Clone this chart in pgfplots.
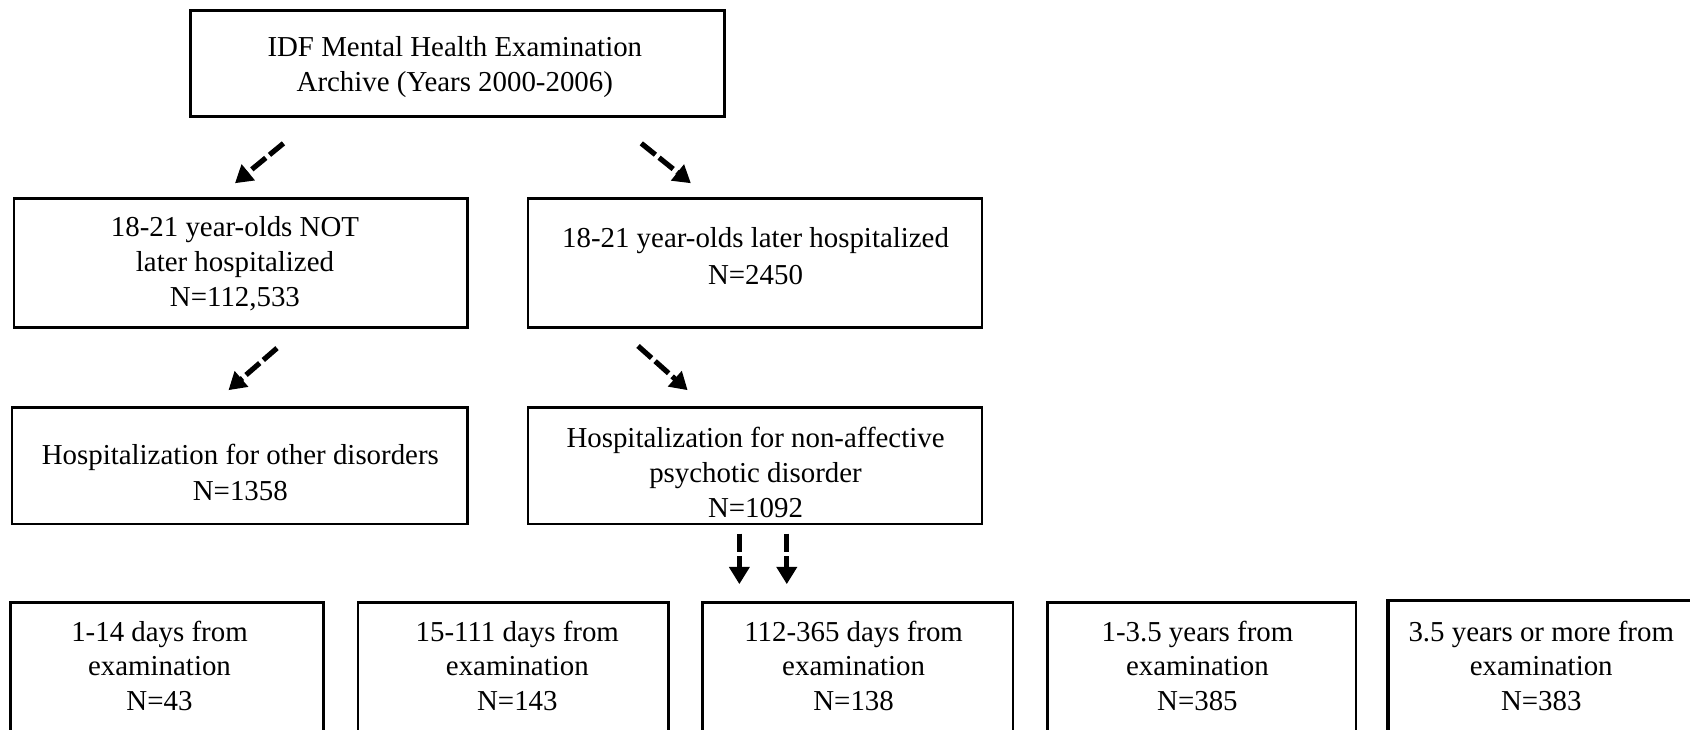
\documentclass[border=0pt]{standalone}
\usepackage{pgfplots}
\pgfplotsset{compat=1.18}
\usepackage{fontspec}
\setmainfont{Liberation Serif}
\usetikzlibrary{arrows.meta}
\begin{document}
\begin{tikzpicture}
\begin{axis}[width=392pt, height=169.25pt, scale only axis,
  xmin=0, xmax=1568, ymin=0, ymax=677, y dir=reverse,
  axis lines=none, clip=false,
  bx/.style={black, solid, line width=0.6pt, mark=none},
  arr/.style={black, line width=1.2pt, mark=none, dash pattern=on 4.2pt off 1.1pt, -{Triangle[length=4pt,width=4.6pt]}},
  nodes={font=\fontsize{6.7}{8.1}\selectfont, inner sep=0pt, anchor=base}]
% boxes
\addplot[bx] coordinates {(177,10) (672,10) (672,108) (177,108)} -- cycle;
\addplot[bx] coordinates {(13,184) (434,184) (434,304) (13,304)} -- cycle;
\addplot[bx] coordinates {(490,184) (911,184) (911,304) (490,304)} -- cycle;
\addplot[bx] coordinates {(11,378) (434,378) (434,486) (11,486)} -- cycle;
\addplot[bx] coordinates {(490,378) (911,378) (911,486) (490,486)} -- cycle;
\addplot[bx] coordinates {(10,677) (10,559) (300,559) (300,677)};
\addplot[bx] coordinates {(332,677) (332,559) (620,559) (620,677)};
\addplot[bx] coordinates {(652,677) (652,559) (940,559) (940,677)};
\addplot[bx] coordinates {(972,677) (972,559) (1258,559) (1258,677)};
\addplot[bx, line width=0.8pt] coordinates {(1288,677) (1288,557) (1568,557)};
% arrows
\addplot[arr] coordinates {(263,133) (218,170)};
\addplot[arr] coordinates {(595,133) (641,170)};
\addplot[arr] coordinates {(257,323) (212,362)};
\addplot[arr] coordinates {(592,321) (638,362)};
\addplot[arr] coordinates {(686,495) (686,542)};
\addplot[arr] coordinates {(730,495) (730,542)};
% texts
\node at (axis cs:422,52.6) {IDF Mental Health Examination};
\node at (axis cs:422,84.5) {Archive (Years 2000-2006)};
\node at (axis cs:218,219) {18-21 year-olds NOT};
\node at (axis cs:218,251.5) {later hospitalized};
\node at (axis cs:218,284) {N=112,533};
\node at (axis cs:701,230) {18-21 year-olds later hospitalized};
\node at (axis cs:701,263.5) {N=2450};
\node at (axis cs:223,431) {Hospitalization for other disorders};
\node at (axis cs:223,464) {N=1358};
\node at (axis cs:701,415) {Hospitalization for non-affective};
\node at (axis cs:701,447.5) {psychotic disorder};
\node at (axis cs:701,480) {N=1092};
\node at (axis cs:148,595) {1-14 days from};
\node at (axis cs:148,627) {examination};
\node at (axis cs:148,659) {N=43};
\node at (axis cs:480,595) {15-111 days from};
\node at (axis cs:480,627) {examination};
\node at (axis cs:480,659) {N=143};
\node at (axis cs:792,595) {112-365 days from};
\node at (axis cs:792,627) {examination};
\node at (axis cs:792,659) {N=138};
\node at (axis cs:1111,595) {1-3.5 years from};
\node at (axis cs:1111,627) {examination};
\node at (axis cs:1111,659) {N=385};
\node at (axis cs:1430,595) {3.5 years or more from};
\node at (axis cs:1430,627) {examination};
\node at (axis cs:1430,659) {N=383};
\end{axis}
\pgfresetboundingbox
\path (current axis.south west) rectangle (current axis.north east);
\end{tikzpicture}
\end{document}
